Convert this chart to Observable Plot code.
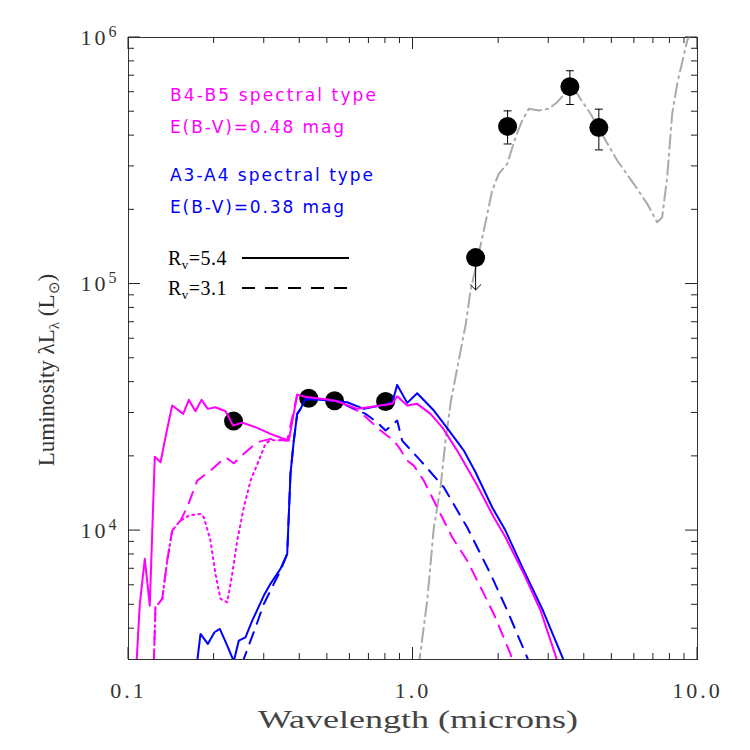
<!DOCTYPE html>
<html>
<head>
<meta charset="utf-8">
<script src="https://cdn.jsdelivr.net/npm/d3@7"></script>
<script src="https://cdn.jsdelivr.net/npm/@observablehq/plot@0.6"></script>
<style>
  body { margin: 0; background: #fff; }
  #chart svg { display: block; }
</style>
</head>
<body>
<div id="chart"></div>
<script>
// Spectral energy distribution: wavelength (microns) vs luminosity λLλ (Lsun)

// Axis ticks
const xMajor = [0.1, 1, 10];
const xMajorLabels = ["0.1", "1.0", "10.0"];
const xMinor = [0.2, 0.3, 0.4, 0.5, 0.6, 0.7, 0.8, 0.9, 2, 3, 4, 5, 6, 7, 8, 9];
const yMajor = [1e4, 1e5, 1e6];
const yMajorExponents = ["4", "5", "6"];
const yMinor = [4000, 5000, 6000, 7000, 8000, 9000,
  2e4, 3e4, 4e4, 5e4, 6e4, 7e4, 8e4, 9e4,
  2e5, 3e5, 4e5, 5e5, 6e5, 7e5, 8e5, 9e5];

// B4-B5 model, Rv = 5.4  [wavelength, luminosity]
const bSolid = [[0.1067,2900],[0.1096,5040],[0.1141,7680],[0.1188,4960],[0.1237,19950],[0.1296,18920],
  [0.1360,25050],[0.1424,32150],[0.1557,29740],[0.1629,33900],[0.1720,30480],[0.1806,33900],[0.1900,31170],
  [0.2022,31640],[0.2193,30480],[0.2333,26670],[0.2510,27420],[0.2835,26100],[0.3155,24680],[0.3469,23680],
  [0.3660,23170],[0.3917,35600],[0.4246,34730],[0.4859,34210],[0.5414,33460],[0.6366,31170],[0.7281,31850],
  [0.8453,32660],[0.8801,35060],[0.9541,32150],[1.0346,32660],[1.152,29740],[1.267,26240],[1.430,21110],
  [1.682,15220],[1.923,11320],[2.114,9400],[2.453,6670],[2.807,4740],[3.213,2970],[3.30,2700]];

// B4-B5 model, Rv = 3.1
const bDashed = [[0.1227,2900],[0.1244,4890],[0.1314,5280],[0.1368,7560],[0.1424,10000],[0.1523,10980],
  [0.1608,12430],[0.1744,15950],[0.1942,17510],[0.2193,19830],[0.2345,18750],[0.2543,20480],[0.2835,22820],
  [0.3155,23550],[0.3613,23170],[0.3917,35600],[0.4246,34730],[0.4859,34210],[0.5414,33460],[0.6366,30680],
  [0.6628,29740],[0.7688,25450],[0.8558,23170],[0.8917,21780],[0.9541,19230],[1.0065,18350],[1.0914,15950],
  [1.232,12050],[1.373,9400],[1.550,7560],[1.728,5890],[1.923,4590],[2.201,3160],[2.256,2830]];

// B4-B5 model with the 2175 Å bump
const bDotted = [[0.1227,2900],[0.1244,4890],[0.1314,5280],[0.1368,7560],[0.1424,10000],[0.1523,10980],
  [0.1629,11500],[0.1791,11690],[0.1840,11320],[0.1942,9110],[0.2022,6670],[0.2106,5280],[0.2223,5120],
  [0.2315,6670],[0.2411,9110],[0.2543,12430],[0.2685,15950],[0.2871,19230],[0.3030,22490],[0.3155,23300],
  [0.3660,23170]];

// A3-A4 model, Rv = 5.4
const aSolid = [[0.1744,2950],[0.1791,3810],[0.1900,3470],[0.2005,3870],[0.2094,3990],[0.2210,3470],
  [0.2345,2950],[0.2442,3580],[0.2577,3690],[0.2722,4310],[0.2990,5450],[0.3155,6080],[0.3421,6990],
  [0.3613,8040],[0.3710,16980],[0.3811,23170],[0.3917,29740],[0.4024,31170],[0.4190,34210],[0.4859,33830],
  [0.5870,33150],[0.6716,31170],[0.7688,32150],[0.8453,33040],[0.8801,38990],[0.9541,32960],[1.0346,36060],
  [1.184,30680],[1.319,26050],[1.509,21110],[1.659,17240],[1.898,12430],[2.114,10000],[2.453,6880],
  [2.846,4810],[3.389,2970],[3.49,2700]];

// A3-A4 model, Rv = 3.1
const aDashed = [[0.2510,2900],[0.2796,4050],[0.2990,5040],[0.3241,6080],[0.3421,6880],[0.3613,8040],
  [0.3710,16980],[0.3811,23170],[0.3917,29740],[0.4024,31170],[0.4190,34210],[0.4859,33830],[0.5414,33600],
  [0.6808,29740],[0.7486,27500],[0.8006,25450],[0.8801,27940],[0.9162,23170],[1.0627,19230],[1.283,14990],
  [1.550,10310],[1.873,6670],[2.144,4740],[2.520,3060],[2.588,2780]];

// Dust emission model
const dust = [[1.045,2780],[1.122,5200],[1.184,10310],[1.250,14990],[1.301,23170],[1.36,33690],[1.509,62800],
  [1.530,67900],[1.593,94100],[1.672,120800],[1.774,164800],[1.898,239500],[2.002,279900],[2.144,307300],
  [2.293,394000],[2.420,460500],[2.553,513600],[2.768,505700],[3.001,513600],[3.213,546500],[3.483,609500],
  [3.777,591000],[4.207,490400],[4.685,394000],[5.222,316900],[5.971,255000],[6.657,211500],[7.216,178100],
  [7.514,186600],[7.824,271300],[8.147,490400],[8.484,648600],[9.201,972400],[9.450,1037000]];

// Photometry
const photLam = [0.234, 0.430, 0.530, 0.801, 1.66, 2.15, 3.56, 4.50];
const photLum = [27800, 34400, 33650, 33400, 128000, 436000, 632000, 431000];
const errLam = [2.15, 3.56, 4.50];
const errLo = [370000, 535000, 350000];
const errHi = [504000, 733000, 512000];
const limitLam = [1.66];
const limitFrom = [128000];
const limitTo = [94700];

const MAGENTA = "#ff00ff", BLUE = "#0000ff", GRAY = "#aaaaaa", INK = "#333";

const phot = photLam.map((x, i) => ({x, y: photLum[i]}));
const errs = errLam.map((x, i) => ({x, lo: errLo[i], hi: errHi[i]}));
const caps = errs.flatMap(d => [{x: d.x, y: d.lo}, {x: d.x, y: d.hi}]);
const limits = limitLam.map((x, i) => ({x, y1: limitFrom[i], y2: limitTo[i]}));

// horizontal cap for error bars
const capSymbol = {
  draw(context, size) {
    const r = Math.sqrt(size / Math.PI);
    context.moveTo(-r, 0);
    context.lineTo(r, 0);
  }
};

const px = d => d[0], py = d => d[1];
const curve = (data, stroke, dash) => Plot.line(data, {
  x: px, y: py, stroke, strokeWidth: 2, strokeDasharray: dash, clip: true
});

const chart = Plot.plot({
  width: 750,
  height: 750,
  marginLeft: 128,
  marginRight: 53,
  marginTop: 37,
  marginBottom: 91,
  x: {type: "log", domain: [0.1, 10]},
  y: {type: "log", domain: [3000, 1e6]},
  style: {background: "#fff", fontFamily: "Liberation Serif", fontSize: "22px", letterSpacing: "3px"},
  marks: [
    Plot.frame({stroke: INK, fill: "none"}),

    // tick labels
    Plot.axisX(xMajor, {anchor: "bottom", tickSize: 0, tickPadding: 23, label: null,
      tickFormat: d => xMajorLabels[xMajor.indexOf(d)], fill: INK}),
    Plot.axisY(yMajor, {anchor: "left", tickSize: 0, tickPadding: 9, label: null,
      tickFormat: d => "10^" + yMajorExponents[yMajor.indexOf(d)], fill: INK}),

    // dust model
    curve(dust, GRAY, "14,5,2,5"),

    // photometry: upper limit, error bars, points
    Plot.arrow(limits, {x1: "x", y1: "y1", x2: "x", y2: "y2", stroke: "black", strokeWidth: 1,
      headAngle: 90, headLength: 11}),
    Plot.ruleX(errs, {x: "x", y1: "lo", y2: "hi", stroke: "black", strokeWidth: 1}),
    Plot.dot(caps, {x: "x", y: "y", symbol: capSymbol, r: 4, stroke: "black", fill: "none", strokeWidth: 1}),
    Plot.dot(phot, {x: "x", y: "y", r: 9.5, fill: "black", stroke: "none"}),

    // stellar models
    curve(bDotted, MAGENTA, "2,4"),
    curve(bDashed, MAGENTA, "12,9"),
    curve(aDashed, BLUE, "12,9"),
    curve(aSolid, BLUE, null),
    curve(bSolid, MAGENTA, null)
  ]
});

const s = d3.select(chart);

// inward tick marks on all four frame edges, placed with the plot's own scales
const xScaleInfo = chart.scale("x"), yScaleInfo = chart.scale("y");
const sx = xScaleInfo.apply ? v => xScaleInfo.apply(v)
  : d3.scaleLog().domain(xScaleInfo.domain).range(xScaleInfo.range);
const sy = yScaleInfo.apply ? v => yScaleInfo.apply(v)
  : d3.scaleLog().domain(yScaleInfo.domain).range(yScaleInfo.range);
const [frameLeft, frameRight] = xScaleInfo.range;
const [frameBottom, frameTop] = yScaleInfo.range;
const tickGroup = s.append("g").attr("stroke", "#222").attr("stroke-width", 1);
const xTickSet = [...xMajor.map(v => [v, 12]), ...xMinor.map(v => [v, 6])];
const yTickSet = [...yMajor.map(v => [v, 12]), ...yMinor.map(v => [v, 6])];
xTickSet.forEach(([v, len]) => {
  const x = sx(v);
  tickGroup.append("line").attr("x1", x).attr("x2", x).attr("y1", frameBottom).attr("y2", frameBottom - len);
  tickGroup.append("line").attr("x1", x).attr("x2", x).attr("y1", frameTop).attr("y2", frameTop + len);
});
yTickSet.forEach(([v, len]) => {
  const y = sy(v);
  tickGroup.append("line").attr("y1", y).attr("y2", y).attr("x1", frameLeft).attr("x2", frameLeft + len);
  tickGroup.append("line").attr("y1", y).attr("y2", y).attr("x1", frameRight).attr("x2", frameRight - len);
});

// powers of ten: set the exponent as a raised, smaller tspan
s.selectAll("g[aria-label='y-axis tick label'] text").each(function () {
  const el = d3.select(this);
  const [base, exp] = el.text().split("^");
  if (exp === undefined) return;
  el.text(base);
  el.append("tspan").attr("dy", "-0.5em").attr("font-size", 16).text(exp);
});

// axis titles
s.append("text")
  .attr("x", 418).attr("y", 728)
  .attr("text-anchor", "middle")
  .attr("font-family", "Liberation Serif")
  .attr("font-size", 25)
  .attr("letter-spacing", 0)
  .attr("fill", "#444")
  .attr("textLength", 320)
  .attr("lengthAdjust", "spacingAndGlyphs")
  .text("Wavelength (microns)");

const yTitle = s.append("text")
  .attr("transform", "translate(54,370) rotate(-90)")
  .attr("text-anchor", "middle")
  .attr("font-family", "Liberation Serif")
  .attr("font-size", 23)
  .attr("letter-spacing", 0)
  .attr("fill", INK);
yTitle.append("tspan").text("Luminosity λL");
yTitle.append("tspan").attr("dy", 5).attr("font-size", 15).text("λ");
yTitle.append("tspan").attr("dy", -5).text(" (L");
yTitle.append("tspan").attr("dy", 5).attr("font-size", 15).text("⊙");
yTitle.append("tspan").attr("dy", -5).text(")");

// legend
const legendText = [
  {t: "B4-B5 spectral type", y: 101, w: 206, c: MAGENTA},
  {t: "E(B-V)=0.48 mag", y: 133, w: 174, c: MAGENTA},
  {t: "A3-A4 spectral type", y: 181, w: 203, c: BLUE},
  {t: "E(B-V)=0.38 mag", y: 213, w: 174, c: BLUE}
];
legendText.forEach(d => {
  s.append("text")
    .attr("x", 170).attr("y", d.y)
    .attr("text-anchor", "start")
    .attr("font-family", "DejaVu Sans")
    .attr("font-size", 17)
    .attr("letter-spacing", 0)
    .attr("fill", d.c)
    .attr("textLength", d.w)
    .attr("lengthAdjust", "spacing")
    .text(d.t);
});

const rvLegend = [{v: "5.4", y: 265, dash: null}, {v: "3.1", y: 295, dash: "13,10"}];
rvLegend.forEach(d => {
  const t = s.append("text")
    .attr("x", 168).attr("y", d.y)
    .attr("text-anchor", "start")
    .attr("font-family", "Liberation Serif")
    .attr("font-size", 20)
    .attr("letter-spacing", 0.5)
    .attr("fill", "black");
  t.append("tspan").text("R");
  t.append("tspan").attr("dy", 4).attr("font-size", 13).text("v");
  t.append("tspan").attr("dy", -4).text("=" + d.v);
  s.append("line")
    .attr("x1", 242).attr("x2", 349)
    .attr("y1", d.y - 7).attr("y2", d.y - 7)
    .attr("stroke", "black").attr("stroke-width", 2)
    .attr("stroke-dasharray", d.dash);
});

document.getElementById("chart").append(chart);
</script>
</body>
</html>
